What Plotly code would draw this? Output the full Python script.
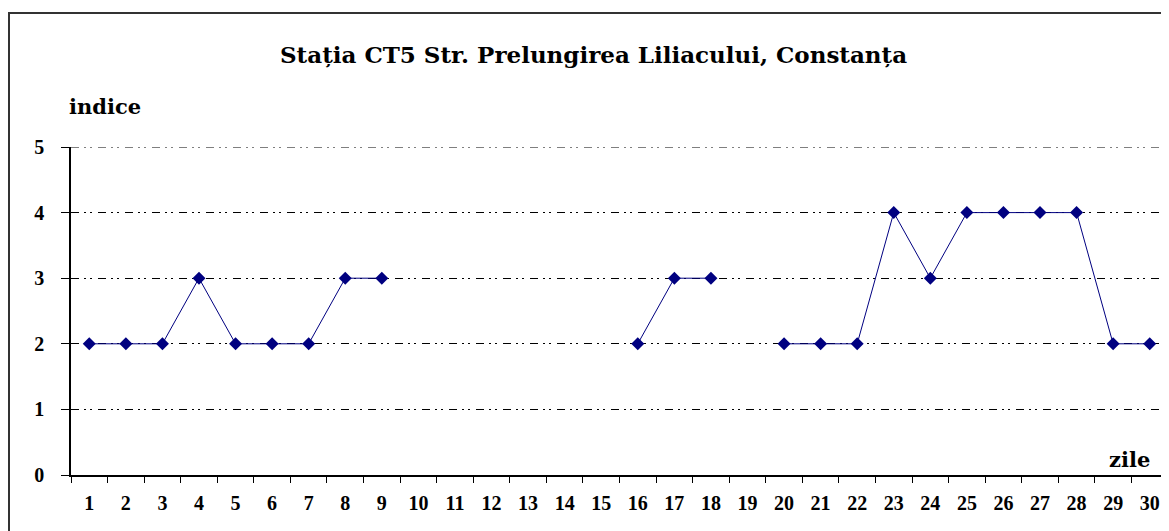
import plotly.graph_objects as go

days = [str(d) for d in range(1, 31)]
indice = [2, 2, 2, 3, 2, 2, 2, 3, 3, None, None, None, None, None, None,
          2, 3, 3, None, 2, 2, 2, 4, 3, 4, 4, 4, 4, 2, 2]
y_ticks = [0, 1, 2, 3, 4, 5]
title_text = "Stația CT5 Str. Prelungirea Liliacului, Constanța"

FONT = "Liberation Serif"
WIDE = "DejaVu Serif"
NAVY = "#000080"
GRID_DASH = "8px,5px,2px,4px,2px,6px"

OFF = 8  # page body margin offset
W, H = 1169 - OFF, 531 - OFF
L = 71 - OFF
R = W - (1168 - OFF)
T = 147 - OFF
B = H - (475 - OFF)
pw = W - L - R
ph = H - T - B


def px(xref_px):
    return (xref_px - OFF - L) / pw


def py(yref_px):
    return (H - B - (yref_px - OFF)) / ph


fig = go.Figure()
fig.add_trace(go.Scatter(
    x=days, y=indice, mode="lines+markers",
    line=dict(color=NAVY, width=1),
    marker=dict(symbol="diamond", size=10, color=NAVY),
    connectgaps=False, showlegend=False, hoverinfo="x+y",
    cliponaxis=False,
))

fig.update_layout(
    width=W, height=H,
    margin=dict(l=L, r=R, t=T, b=B, pad=0),
    paper_bgcolor="white", plot_bgcolor="white",
    font=dict(family=FONT, size=14, color="black"),
    xaxis=dict(
        type="category", range=[-0.5, 29.5],
        tickson="boundaries", ticks="outside", ticklen=6, tickcolor="black",
        showline=True, linecolor="black", linewidth=1.5,
        showgrid=False, zeroline=False,
        ticklabelstandoff=9,
        tickfont=dict(family=FONT, size=20, color="black", weight="bold"),
    ),
    yaxis=dict(
        range=[0, 5], tickvals=y_ticks, ticks="outside", ticklen=8, tickcolor="black",
        showline=True, linecolor="black", linewidth=1.5,
        showgrid=True, gridcolor="black", gridwidth=1,
        griddash=GRID_DASH,
        zeroline=False,
        ticklabelstandoff=13,
        tickfont=dict(family=FONT, size=20, color="black", weight="bold"),
    ),
    annotations=[
        dict(text="<b>" + title_text + "</b>", xref="paper", yref="paper",
             x=px(593), y=py(55), showarrow=False, xanchor="center", yanchor="middle",
             font=dict(family=WIDE, size=23, color="black")),
        dict(text="<b>indice</b>", xref="paper", yref="paper",
             x=px(67), y=py(107), showarrow=False, xanchor="left", yanchor="middle",
             font=dict(family=WIDE, size=21, color="black")),
        dict(text="<b>zile</b>", xref="paper", yref="paper",
             x=px(1152), y=py(459), showarrow=False, xanchor="right", yanchor="middle",
             font=dict(family=WIDE, size=21, color="black")),
    ],
    shapes=[
        dict(type="rect", xref="paper", yref="paper",
             x0=px(9), y0=py(545), x1=px(1185), y1=py(13),
             line=dict(color="#333333", width=2), fillcolor="rgba(0,0,0,0)", layer="below"),
        dict(type="line", xref="paper", yref="y",
             x0=0, x1=1, y0=y_ticks[-1], y1=y_ticks[-1],
             line=dict(color="black", width=1, dash=GRID_DASH), layer="below"),
    ],
)

fig.write_html("out.html")
